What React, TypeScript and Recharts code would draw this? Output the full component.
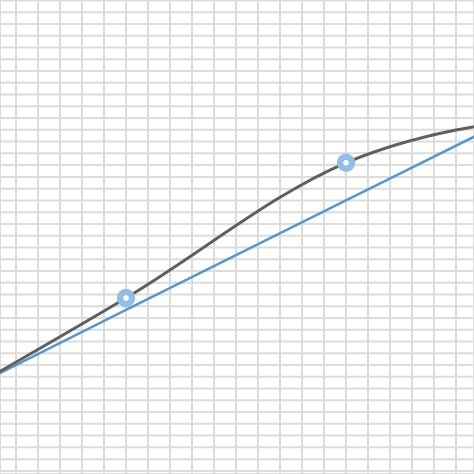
import React from 'react';
import { LineChart, Line, XAxis, YAxis, CartesianGrid } from 'recharts';

const xValues = [-5, 5, 15, 25];
const curveValues = [3.9, 14.7, 26.2, 30.4];
const trendValues = [4.3, 13.7, 23.0, 32.3];
const markedIndices = [1, 2];
const xTicks = Array.from({ length: 21 }, (_, i) => i);
const yTicks = Array.from({ length: 41 }, (_, i) => i);

const data = xValues.map((x, i) => ({ x, curve: curveValues[i], trend: trendValues[i] }));

const MarkerDot = (props: any) => {
  const { cx, cy, index } = props;
  if (!markedIndices.includes(index)) return <g key={`d${index}`} />;
  return (
    <circle key={`d${index}`} cx={cx} cy={cy} r={6} fill="#ffffff" stroke="#93bde5" strokeWidth={6.5} />
  );
};

export default function App() {
  return (
    <div style={{ position: 'absolute', left: 0, top: 0, background: '#ffffff' }}>
      <LineChart width={474} height={474} data={data} margin={{ top: 0, right: 0, bottom: 0, left: 0 }}>
        <CartesianGrid stroke="#dcdcdc" strokeWidth={2} />
        <XAxis dataKey="x" type="number" domain={[-0.727, 20.818]} ticks={xTicks} interval={0} allowDataOverflow hide />
        <YAxis type="number" domain={[-0.264, 40.04]} ticks={yTicks} interval={0} allowDataOverflow hide />
        <Line type="linear" dataKey="trend" stroke="#5b96c8" strokeWidth={2.5} dot={false} isAnimationActive={false} />
        <Line type="monotone" dataKey="curve" stroke="#5f5f5f" strokeWidth={3} dot={<MarkerDot />} activeDot={false} isAnimationActive={false} />
      </LineChart>
    </div>
  );
}
